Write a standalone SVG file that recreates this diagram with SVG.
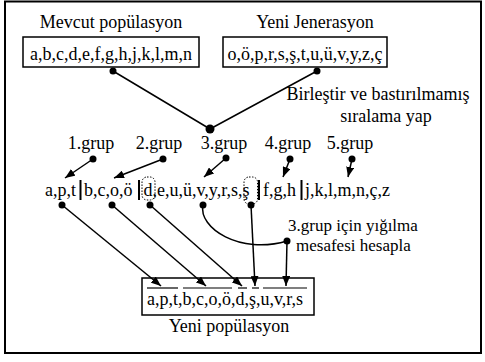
<svg xmlns="http://www.w3.org/2000/svg" width="485" height="362" viewBox="0 0 485 362">
<style>
text{font-family:"Liberation Serif","Times New Roman",serif;font-size:18px;fill:#000}
.sm{font-size:17px}
.box{fill:#fff;stroke:#000;stroke-width:1.5}
.ln{fill:none;stroke:#000;stroke-width:1.5}
.arr{fill:none;stroke:#000;stroke-width:1.5;marker-end:url(#ah)}
.bar{stroke:#000;stroke-width:2}
.dot{fill:#000}
.dash{fill:none;stroke:#000;stroke-width:1;stroke-dasharray:1.5 1.5}
.ov{stroke:#000;stroke-width:1.2}
.mid{text-anchor:middle}
</style>
<defs>
<marker id="ah" viewBox="0 0 10 8" refX="10" refY="4" markerWidth="10" markerHeight="8" markerUnits="userSpaceOnUse" orient="auto">
<path d="M0,0 L10,4 L0,8 z" fill="#000"/>
</marker>
</defs>
<rect x="5" y="1.5" width="476" height="351.5" fill="#fff" stroke="#000" stroke-width="2"/>

<g id="mevcut">
<text class="mid" x="111" y="28">Mevcut popülasyon</text>
<rect class="box" x="23" y="37" width="176" height="30"/>
<text class="mid" x="111" y="60">a,b,c,d,e,f,g,h,j,k,l,m,n</text>
</g>
<g id="yeni-jenerasyon">
<text class="mid" x="315" y="28">Yeni Jenerasyon</text>
<rect class="box" x="223" y="37" width="164" height="30"/>
<text class="mid" x="305" y="60">o,ö,p,r,s,ş,t,u,ü,v,y,z,ç</text>
</g>
<g id="birlestir">
<text class="mid" x="378" y="100">Birleştir ve bastırılmamış</text>
<text class="mid" x="386" y="122">sıralama yap</text>
</g>
<g id="gruplar">
<text class="mid" x="91" y="149">1.grup</text>
<text class="mid" x="159" y="149">2.grup</text>
<text class="mid" x="224" y="149">3.grup</text>
<text class="mid" x="288" y="149">4.grup</text>
<text class="mid" x="350" y="149">5.grup</text>
</g>
<g id="siralama">
<text x="45" y="196">a,p,t</text>
<line class="bar" x1="80.5" y1="180" x2="80.5" y2="200"/>
<text x="84" y="196">b,c,o,ö</text>
<line class="bar" x1="139" y1="180" x2="139" y2="200"/>
<text x="143.5" y="196">d,e,u,ü,v,y,r,s,ş</text>
<rect class="dash" x="142" y="177" width="13" height="23" rx="5"/>
<rect class="dash" x="244" y="177" width="13.5" height="27" rx="5"/>
<line class="bar" x1="259" y1="180" x2="259" y2="200"/>
<text x="263" y="196">f,g,h</text>
<line class="bar" x1="301.5" y1="180" x2="301.5" y2="200"/>
<text x="305" y="196">j,k,l,m,n,ç,z</text>
</g>
<g id="yigilma">
<text class="sm" x="288" y="231">3.grup için yığılma</text>
<text class="sm" x="296" y="250.5">mesafesi hesapla</text>
</g>
<g id="yeni-populasyon">
<rect class="box" x="142" y="278" width="172" height="37"/>
<text x="147" y="305">a,p,t,b,c,o,ö,d,ş,u,v,r,s</text>
<line class="ov" x1="147" y1="288" x2="178" y2="288"/>
<line class="ov" x1="183" y1="288" x2="232" y2="288"/>
<line class="ov" x1="238" y1="288" x2="247" y2="288"/>
<line class="ov" x1="252" y1="288" x2="259" y2="288"/>
<line class="ov" x1="263" y1="288" x2="307" y2="288"/>
<text class="mid" x="229" y="332">Yeni popülasyon</text>
</g>
<g id="connectors">
<path class="ln" d="M113,71 L210,129 M317,71 L210,129"/>
<path class="arr" d="M93,159 L65,178"/>
<path class="arr" d="M163,159 L114,178"/>
<path class="arr" d="M226,158 L204,177"/>
<path class="arr" d="M290,159 L283,177"/>
<path class="arr" d="M352,159 L348,177"/>
<path class="arr" d="M62,205 L161,286"/>
<path class="arr" d="M112,205 L206,286"/>
<path class="arr" d="M150,205 L242,286"/>
<path class="arr" d="M251,205 L255,286"/>
<path class="ln" d="M203,205 C198,228 240,255 287,241"/>
<path class="arr" d="M287,241 L286,286"/>
<circle class="dot" cx="113" cy="71" r="3.5"/>
<circle class="dot" cx="317" cy="71" r="3.5"/>
<circle class="dot" cx="210" cy="129" r="4.5"/>
<circle class="dot" cx="93" cy="159" r="3.5"/>
<circle class="dot" cx="163" cy="159" r="3.5"/>
<circle class="dot" cx="226" cy="158" r="3.5"/>
<circle class="dot" cx="290" cy="159" r="3.5"/>
<circle class="dot" cx="352" cy="159" r="3.5"/>
<circle class="dot" cx="62" cy="205" r="3.5"/>
<circle class="dot" cx="112" cy="205" r="3.5"/>
<circle class="dot" cx="150" cy="205" r="3.5"/>
<circle class="dot" cx="203" cy="205" r="3.5"/>
<circle class="dot" cx="251" cy="205" r="3.5"/>
<circle class="dot" cx="287" cy="241" r="3.5"/>
</g>
</svg>
